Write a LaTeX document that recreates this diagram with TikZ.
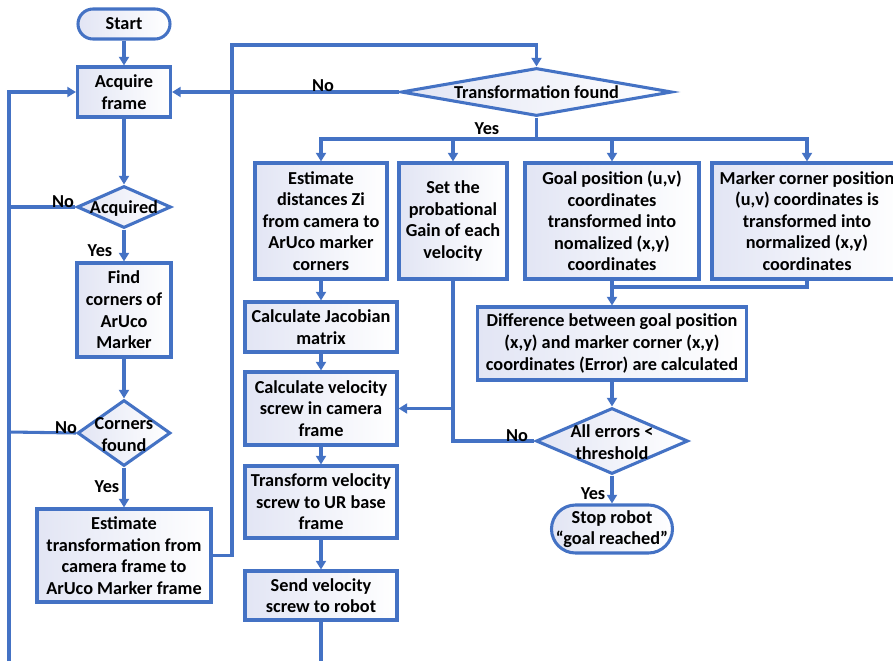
\documentclass[tikz,border=0pt]{standalone}
\usepackage{fontspec}
\setmainfont{Carlito}
\usetikzlibrary{shapes.geometric,arrows.meta}
\definecolor{lineblue}{RGB}{68,114,196}
\definecolor{boxshade}{RGB}{226,229,244}
\newcommand{\dtext}[1]{\smash{\makebox[0pt]{\raisebox{-0.33em}{#1}}}}
\newcommand{\dtwo}[1]{\smash{\makebox[0pt]{\raisebox{-0.45em}{\begin{tabular}{@{}c@{}}#1\end{tabular}}}}}
\begin{document}
\begin{tikzpicture}[x=0.75pt,y=-0.75pt,
  every node/.style={font=\fontsize{13.7}{16.2}\selectfont\bfseries},
  shadefill/.style={left color=boxshade, right color=white},
  procbox/.style={draw=lineblue, line width=2.3pt, shadefill, rectangle, align=center, inner sep=1pt},
  termbox/.style={draw=lineblue, line width=2.3pt, shadefill, rectangle, align=center, inner sep=1pt},
  decbox/.style={draw=lineblue, line width=2.3pt, shadefill, diamond, inner sep=0pt},
  conn/.style={draw=lineblue, line width=2.3pt},
  arr/.style={conn, -{Triangle[width=7.5pt,length=6.5pt]}},
  lbl/.style={inner sep=0pt}
]
\useasboundingbox (0,0) rectangle (893,661);

% left column
\node[termbox, rounded corners=11.25pt, minimum width=69pt, minimum height=22.5pt] (start) at (124,24) {Start};
\node[procbox, minimum width=69.75pt, minimum height=37.5pt] (acq) at (124,92) {Acquire\\frame};
\node[decbox, minimum width=70.5pt, minimum height=31.5pt] (acqd) at (124,207) {\dtext{Acquired}};
\node[procbox, minimum width=70.5pt, minimum height=70.5pt] (find) at (124,310) {Find\\corners of\\ArUco\\Marker};
\node[decbox, minimum width=69.75pt, minimum height=49.5pt] (cornd) at (124,433) {\dtwo{Corners\\found}};
\node[procbox, minimum width=130.5pt, minimum height=69.75pt] (esttf) at (124,555.5) {Estimate\\transformation from\\camera frame to\\ArUco Marker frame};

% top decision
\node[decbox, minimum width=203.25pt, minimum height=36pt] (tfd) at (536.5,92) {\dtext{Transformation found}};

% row of boxes
\node[procbox, minimum width=99pt, minimum height=87pt] (dist) at (321,221) {Estimate\\distances Zi\\from camera to\\ArUco marker\\corners};
\node[procbox, minimum width=81pt, minimum height=87pt] (gain) at (453,221) {Set the\\probational\\Gain of each\\velocity};
\node[procbox, minimum width=130.5pt, minimum height=87pt] (goal) at (612,221) {Goal position (u,v)\\coordinates\\transformed into\\nomalized (x,y)\\coordinates};
\node[procbox, minimum width=142.5pt, minimum height=87pt] (mark) at (807,221) {Marker corner position\\(u,v) coordinates is\\transformed into\\normalized (x,y)\\coordinates};

% right chain
\node[procbox, minimum width=201.75pt, minimum height=54.75pt] (diff) at (612,343.5) {Difference between goal position\\(x,y) and marker corner (x,y)\\coordinates (Error) are calculated};
\node[decbox, minimum width=114pt, minimum height=49.5pt] (alld) at (612,441) {\dtwo{All errors <\\threshold}};
\node[termbox, rounded corners=18pt, minimum width=90.75pt, minimum height=36pt] (stop) at (612,529) {Stop robot\\``goal reached''};

% middle column
\node[procbox, minimum width=114pt, minimum height=37.5pt] (jac) at (321,327) {Calculate Jacobian\\matrix};
\node[procbox, minimum width=114pt, minimum height=54.75pt] (vel) at (321,408.5) {Calculate velocity\\screw in camera\\frame};
\node[procbox, minimum width=114pt, minimum height=54pt] (trf) at (321,502) {Transform velocity\\screw to UR base\\frame};
\node[procbox, minimum width=114pt, minimum height=36.75pt] (send) at (321,595.5) {Send velocity\\screw to robot};

% coordinates
\coordinate (loopbot) at (9,661);
\coordinate (loopA) at (9,207);
\coordinate (loopC) at (9,432);
\coordinate (up) at (232,45);
\coordinate (split) at (536.5,139);
\coordinate (merge) at (612,287);
\coordinate (sendend) at (321,661);

% connectors left
\draw[arr] (start) -- (acq);
\draw[arr] (acq) -- (acqd);
\draw[arr] (acqd) -- (find);
\draw[arr] (find) -- (cornd);
\draw[arr] (cornd) -- (esttf);
\draw[conn] (acqd.west) -- (loopA);
\draw[conn] (cornd.west) -- (loopC);
\draw[arr] (loopbot) |- (acq.west);
\draw[arr] (esttf.east) -| (up) -| (tfd.north);
\draw[arr] (tfd.west) -- (acq.east);

% split
\draw[conn] (tfd.south) -- (split);
\draw[arr] (split) -| (dist.north);
\draw[arr] (split) -| (gain.north);
\draw[arr] (split) -| (goal.north);
\draw[arr] (split) -| (mark.north);

% merge
\draw[conn] (mark.south) |- (merge);
\draw[conn] (goal.south) -- (merge);
\draw[arr] (merge) -- (diff.north);
\draw[arr] (diff) -- (alld);
\draw[arr] (alld) -- (stop);
\draw[conn] (alld.west) -| (gain.south);
\draw[arr] (gain.south |- vel.east) -- (vel.east);

% middle chain
\draw[arr] (dist) -- (jac);
\draw[arr] (jac) -- (vel);
\draw[arr] (vel) -- (trf);
\draw[arr] (trf) -- (send);
\draw[conn] (send.south) -- (sendend);

% labels
\node[lbl] (l1) at (63,202) {No};
\node[lbl] (l2) at (100,251) {Yes};
\node[lbl] (l3) at (66,428) {No};
\node[lbl] (l4) at (107,487) {Yes};
\node[lbl] (l5) at (323,86) {No};
\node[lbl] (l6) at (487,129) {Yes};
\node[lbl] (l7) at (517,436) {No};
\node[lbl] (l8) at (593,494) {Yes};
\end{tikzpicture}
\end{document}
